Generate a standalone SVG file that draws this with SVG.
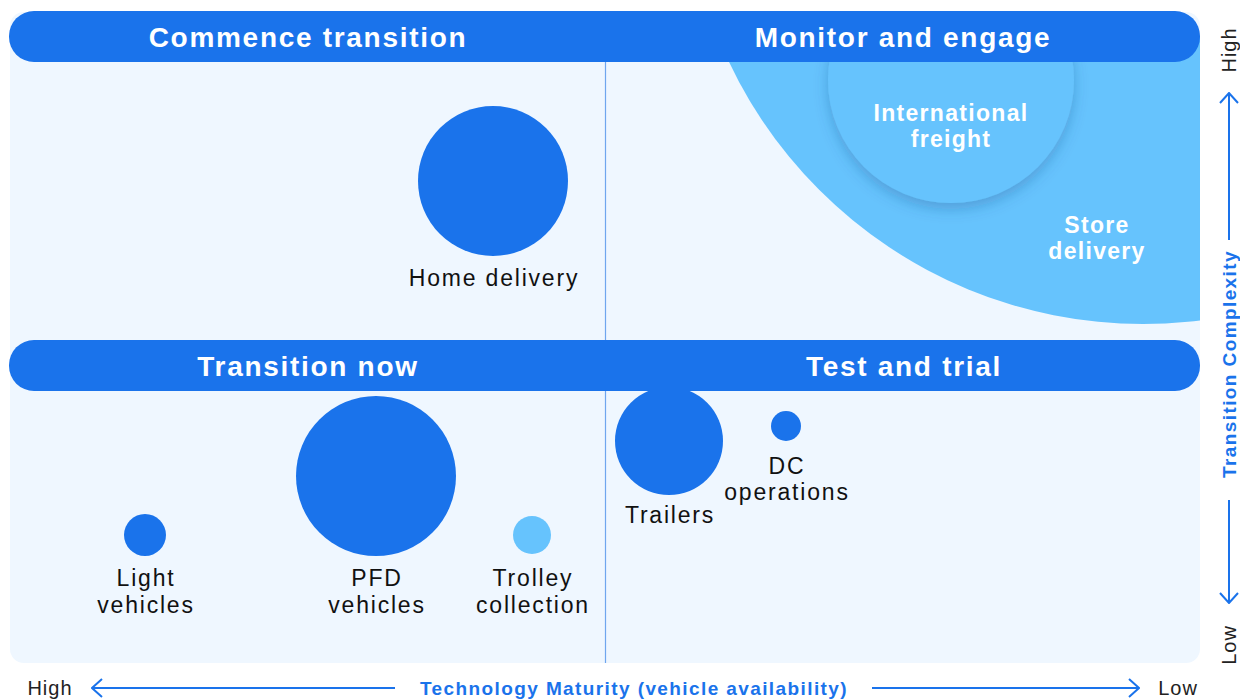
<svg xmlns="http://www.w3.org/2000/svg" width="1240" height="699" viewBox="0 0 1240 699">
<style>
.bar{fill:#1a73eb}
.hdr{font-family:"Liberation Sans",Arial,sans-serif;font-weight:bold;font-size:28px;letter-spacing:1.7px;fill:#ffffff;text-anchor:middle}
.lbl{font-family:"Liberation Sans",Arial,sans-serif;font-size:23px;letter-spacing:1.8px;fill:#111111;text-anchor:middle}
.wlbl{font-family:"Liberation Sans",Arial,sans-serif;font-weight:bold;font-size:23px;letter-spacing:1.3px;fill:#ffffff;text-anchor:middle}
.dark{fill:#1a73eb}
.light{fill:#66c3fd}
.axis{font-family:"Liberation Sans",Arial,sans-serif;font-weight:bold;font-size:19px;letter-spacing:1.4px;fill:#1a73eb;text-anchor:middle}
.end{font-family:"Liberation Sans",Arial,sans-serif;font-size:20px;letter-spacing:1px;fill:#222222;text-anchor:middle}
.arr{stroke:#1a73eb;stroke-width:2;fill:none}
</style>
<defs>
<clipPath id="panelClip"><rect x="10" y="36" width="1190" height="627"/></clipPath>
<filter id="sh" x="-30%" y="-30%" width="160%" height="160%">
<feDropShadow dx="0" dy="6" stdDeviation="7" flood-color="#1a4f8a" flood-opacity="0.3"/>
</filter>
<marker id="chev" viewBox="0 0 12 20" refX="11" refY="10" markerWidth="12" markerHeight="20" markerUnits="userSpaceOnUse" orient="auto">
<path d="M1 1 L11 10 L1 19" fill="none" stroke="#1a73eb" stroke-width="2"/>
</marker>
</defs>
<rect x="10" y="12" width="1190" height="651" rx="14" fill="#eff7ff"/>
<g id="store-delivery" clip-path="url(#panelClip)">
<circle cx="1143" cy="-134" r="458" class="light"/>
<text class="wlbl" x="1097" y="233">Store</text>
<text class="wlbl" x="1097" y="259">delivery</text>
</g>
<line x1="605.5" y1="62" x2="605.5" y2="663" stroke="#6fa6ee" stroke-width="1.2"/>
<g id="international-freight" clip-path="url(#panelClip)">
<circle cx="951" cy="80" r="123" class="light" filter="url(#sh)"/>
<text class="wlbl" x="951" y="121">International</text>
<text class="wlbl" x="951" y="147">freight</text>
</g>
<g id="home-delivery">
<circle cx="493" cy="181" r="75" class="dark"/>
<text class="lbl" x="494" y="286">Home delivery</text>
</g>
<g id="pfd-vehicles">
<circle cx="376" cy="476" r="80" class="dark"/>
<text class="lbl" x="377" y="586">PFD</text>
<text class="lbl" x="377" y="613">vehicles</text>
</g>
<g id="light-vehicles">
<circle cx="145" cy="535" r="21" class="dark"/>
<text class="lbl" x="146" y="586">Light</text>
<text class="lbl" x="146" y="613">vehicles</text>
</g>
<g id="trolley-collection">
<circle cx="532" cy="535" r="19" class="light"/>
<text class="lbl" x="533" y="586">Trolley</text>
<text class="lbl" x="533" y="613">collection</text>
</g>
<g id="trailers">
<circle cx="669" cy="441" r="54" class="dark"/>
<text class="lbl" x="670" y="523">Trailers</text>
</g>
<g id="dc-operations">
<circle cx="786" cy="426" r="15" class="dark"/>
<text class="lbl" x="787" y="474">DC</text>
<text class="lbl" x="787" y="500">operations</text>
</g>
<g id="commence-transition">
<rect class="bar" x="9" y="11" width="596" height="51" rx="25"/>
<text class="hdr" x="308" y="47">Commence transition</text>
</g>
<g id="monitor-and-engage">
<rect class="bar" x="580" y="11" width="620" height="51" rx="25"/>
<rect class="bar" x="560" y="11" width="80" height="51"/>
<text class="hdr" x="903" y="47">Monitor and engage</text>
</g>
<g id="transition-now">
<rect class="bar" x="9" y="340" width="596" height="51" rx="25"/>
<text class="hdr" x="308" y="376">Transition now</text>
</g>
<g id="test-and-trial">
<rect class="bar" x="580" y="340" width="620" height="51" rx="25"/>
<rect class="bar" x="560" y="340" width="80" height="51"/>
<text class="hdr" x="904" y="376">Test and trial</text>
</g>
<g id="connectors">
<line class="arr" x1="1229" y1="240" x2="1229" y2="93" marker-end="url(#chev)"/>
<line class="arr" x1="1229" y1="500" x2="1229" y2="603" marker-end="url(#chev)"/>
<line class="arr" x1="395" y1="688" x2="92" y2="688" marker-end="url(#chev)"/>
<line class="arr" x1="872" y1="688" x2="1139" y2="688" marker-end="url(#chev)"/>
</g>
<text class="axis" transform="translate(1236 364) rotate(-90)">Transition Complexity</text>
<text class="end" transform="translate(1236 50) rotate(-90)">High</text>
<text class="end" transform="translate(1236 645) rotate(-90)">Low</text>
<text class="end" x="50" y="695">High</text>
<text class="axis" x="634" y="695">Technology Maturity (vehicle availability)</text>
<text class="end" x="1178" y="695">Low</text>
</svg>
